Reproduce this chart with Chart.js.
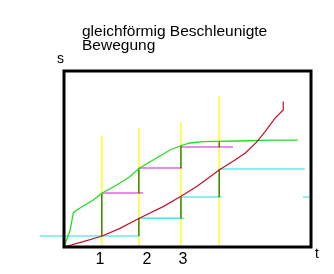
<!DOCTYPE html>
<html>
<head>
<meta charset="utf-8">
<script src="https://cdn.jsdelivr.net/npm/chart.js@4"></script>
<style>
  html, body { margin: 0; padding: 0; background: #ffffff; }
  #wrap { width: 334px; height: 274px; }
</style>
</head>
<body>
<div id="wrap"><canvas id="c" width="334" height="274"></canvas></div>
<script>
// ---- data (t in time units, s in distance units) ----
const titleLines = ["gleichförmig Beschleunigte", "Bewegung"];
const yAxisLabel = "s";
const xAxisLabel = "t";
const tickLabels = ["1", "2", "3"];
const tickPositions = [0.93, 2.15, 3.08];

// green curve (concave)
const greenT = [0, 0.16, 0.24, 0.33, 0.5, 0.76, 0.98, 1.37, 1.71, 1.95, 2.31, 2.75, 3.01, 3.26, 3.6, 4.47, 5.34, 6.06];
const greenS = [0, 0.85, 1.69, 1.85, 2.05, 2.35, 2.69, 3.1, 3.52, 3.94, 4.35, 4.85, 5.05, 5.2, 5.27, 5.3, 5.34, 5.34];

// red curve (convex)
const redT = [0, 0.5, 0.99, 1.45, 1.95, 2.57, 3.02, 3.44, 4.02, 4.43, 4.69, 4.99, 5.21, 5.47, 5.68, 5.68];
const redS = [0, 0.27, 0.55, 0.93, 1.44, 2.02, 2.52, 3.02, 3.85, 4.35, 4.69, 5.24, 5.77, 6.44, 6.85, 7.27];

// yellow vertical markers
const markT = [0.98, 1.94, 3.03, 4.02];
const markTop = [5.55, 5.95, 6.25, 7.55];

// magenta steps (under green curve)
const magentaStart = [0.99, 1.94, 3.03];
const magentaEnd = [2.05, 3.06, 4.38];
const magentaS = [2.7, 3.95, 5.0];

// cyan steps (under red curve)
const cyanStart = [-0.62, 1.94, 3.03, 4.02, 6.19];
const cyanEnd = [1.94, 3.1, 4.09, 6.24, 6.35];
const cyanS = [0.55, 1.44, 2.5, 3.9, 2.5];

// dark green risers
const riserT = [0.98, 1.94, 1.94, 3.03, 3.03, 4.02, 4.02];
const riserFrom = [0.55, 0.55, 2.7, 1.44, 3.95, 2.5, 5.0];
const riserTo = [2.69, 1.44, 3.95, 2.5, 5.05, 3.9, 5.25];

// ---- build datasets ----
function pts(ts, ss) { return ts.map((t, i) => ({ x: t, y: ss[i] })); }
function horizSegs(a, b, s) {
  const out = [];
  a.forEach((t, i) => { out.push({ x: t, y: s[i] }, { x: b[i], y: s[i] }, { x: b[i], y: null }); });
  return out;
}
function vertSegs(t, from, to) {
  const out = [];
  t.forEach((x, i) => { out.push({ x: x, y: from[i] }, { x: x, y: to[i] }, { x: x, y: null }); });
  return out;
}
const base = { pointRadius: 0, borderWidth: 1, tension: 0, fill: false, spanGaps: false, clip: false };

const framePlugin = {
  id: 'frame',
  afterDatasetsDraw(chart) {
    const { ctx, chartArea: a } = chart;
    ctx.save();
    ctx.strokeStyle = '#000';
    ctx.lineWidth = 3;
    ctx.strokeRect(a.left, a.top, a.right - a.left, a.bottom - a.top);
    ctx.restore();
  },
  afterDraw(chart) {
    const { ctx } = chart;
    ctx.save();
    ctx.fillStyle = '#000';
    ctx.textBaseline = 'alphabetic';
    ctx.textAlign = 'left';
    ctx.font = '15.5px "Liberation Sans", Arial, sans-serif';
    ctx.fillText(titleLines[0], 82, 36);
    ctx.fillText(titleLines[1], 82, 50);
    ctx.font = '14px "Liberation Sans", Arial, sans-serif';
    ctx.fillText(yAxisLabel, 57, 63);
    ctx.fillText(xAxisLabel, 315, 258);
    ctx.restore();
  }
};

new Chart(document.getElementById('c'), {
  type: 'line',
  data: {
    datasets: [
      Object.assign({}, base, { data: pts(redT, redS), borderColor: '#c0102a', borderWidth: 1.2 }),
      Object.assign({}, base, { data: pts(greenT, greenS), borderColor: '#22dd22', borderWidth: 1.3 }),
      Object.assign({}, base, { data: vertSegs(riserT, riserFrom, riserTo), borderColor: '#006a00', borderWidth: 1.2 }),
      Object.assign({}, base, { data: horizSegs(magentaStart, magentaEnd, magentaS), borderColor: '#cc22cc', borderWidth: 1.2 }),
      Object.assign({}, base, { data: horizSegs(cyanStart, cyanEnd, cyanS), borderColor: '#22dddd', borderWidth: 1.2 }),
      Object.assign({}, base, { data: vertSegs(markT, markTop.map(() => 0), markTop), borderColor: '#ffff00', borderWidth: 1.3 })
    ]
  },
  options: {
    responsive: false,
    animation: false,
    events: [],
    layout: { padding: { left: 64, top: 71, right: 23, bottom: 0 } },
    plugins: { legend: { display: false }, tooltip: { enabled: false }, title: { display: false } },
    scales: {
      x: {
        type: 'linear', min: 0, max: 6.4, position: 'bottom',
        grid: { display: false, drawTicks: false },
        border: { display: false },
        afterBuildTicks(scale) { scale.ticks = tickPositions.map(v => ({ value: v })); },
        afterFit(scale) { scale.height = 27; },
        ticks: {
          autoSkip: false, maxRotation: 0, padding: 3, color: '#000',
          font: { family: '"Liberation Sans", Arial, sans-serif', size: 16 },
          callback(value, index) { return tickLabels[index]; }
        }
      },
      y: { type: 'linear', min: 0, max: 8.8, display: false }
    }
  },
  plugins: [framePlugin]
});
</script>
</body>
</html>
